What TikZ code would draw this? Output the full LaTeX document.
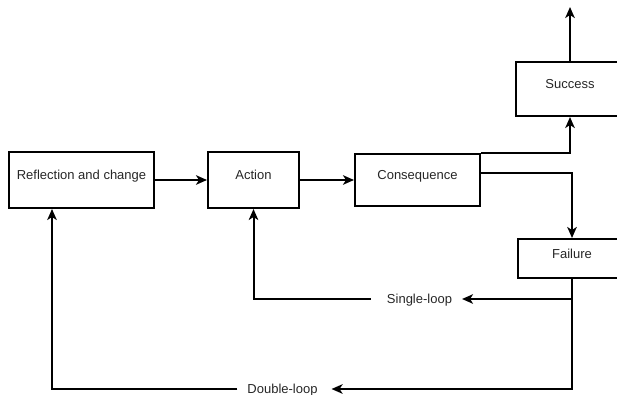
\documentclass[tikz,border=0pt]{standalone}
\usepackage{fontspec}
\setmainfont{Liberation Sans}
\usetikzlibrary{arrows.meta}
\begin{document}
\begin{tikzpicture}[x=1pt,y=-1pt,
  line width=2pt,
  >={Stealth[length=11pt,width=9.5pt,inset=3pt]},
  box/.style={draw, rectangle, inner sep=0pt, text height=6pt, text depth=6pt,
    text=black!85, font=\fontsize{13}{15}\selectfont},
  lbl/.style={inner sep=0pt, text height=9.3pt, text depth=0pt,
    text=black!85, font=\fontsize{13}{15}\selectfont}]
\useasboundingbox (0,0) rectangle (617,395);
\clip (0,0) rectangle (617,395);
% boxes
\node[box, minimum width=145pt, minimum height=56pt] (refl) at (81.5,180) {Reflection and change};
\node[box, minimum width=91pt, minimum height=56pt] (act) at (253.5,180) {Action};
\node[box, minimum width=125pt, minimum height=52pt] (cons) at (417.5,180) {Consequence};
\node[box, minimum width=108pt, minimum height=54pt] (succ) at (570,89) {Success};
\node[box, minimum width=108pt, minimum height=39pt] (fail) at (572,258.5) {Failure};
% labels
\node[lbl] (sl) at (419.5,299) {Single-loop};
\node[lbl] (dl) at (282.5,389) {Double-loop};
\coordinate (top) at (570,7);
% connectors
\draw[->] (refl.east) -- (act.west);
\draw[->] (act.east) -- (cons.west);
\draw[->] (cons.north east) -| (succ.south);
\draw[->] (succ.north) -- (top);
\draw[->] ([yshift=7pt]cons.east) -| (fail.north);
\draw[->] (fail.south) |- ([xshift=9pt]sl.east);
\draw[->] (fail.south) |- ([xshift=13pt]dl.east);
\draw[->] ([xshift=-15pt]sl.west) -| (act.south);
\draw[->] ([xshift=-9pt]dl.west) -| ([xshift=-29.5pt]refl.south);
\end{tikzpicture}
\end{document}
